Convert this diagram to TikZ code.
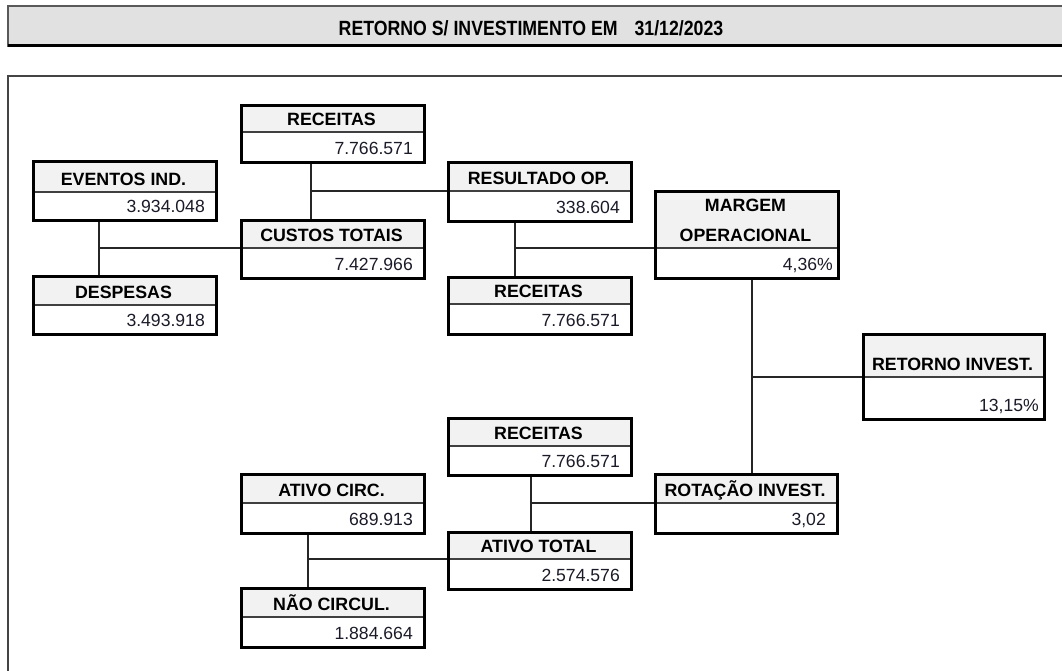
\documentclass[tikz,border=0pt]{standalone}
\usepackage{fontspec}
\setmainfont{Liberation Sans}
\newfontfamily\hdrfont{Liberation Sans}[FakeStretch=0.86]
\usetikzlibrary{backgrounds}
\definecolor{hdrbarfill}{HTML}{E1E1E1}
\definecolor{hdrrowfill}{HTML}{F2F2F2}
\definecolor{valtext}{HTML}{1A1A28}
\definecolor{framecol}{HTML}{444444}

% name, left, top, separator, bottom, right, label, value, right padding
\newcommand\finbox[9]{%
  \fill[hdrrowfill] (#2,#3) rectangle (#6,#4);
  \draw[sepline] (#2,#4) -- (#6,#4);
  \node[boxnode, minimum width={(#6-#2)*1pt}, minimum height={(#5-#3)*1pt}, anchor=north west] (#1) at (#2,#3) {};
  \node[lbl] (#1-l) at ({(#2+#6)/2},{#4-6}) {#7};
  \node[val] (#1-v) at ({#6-#9},{#5-6}) {#8};
}

\begin{document}
\begin{tikzpicture}[x=1pt, y=-1pt,
  boxnode/.style={draw=black, line width=3pt, inner sep=0pt, rectangle},
  sepline/.style={draw=black!75, line width=1.3pt},
  conn/.style={draw=black!85, line width=1.5pt},
  lbl/.style={font=\fontsize{17.8}{30}\selectfont\bfseries, inner sep=0pt, text depth=0pt, anchor=south, align=center},
  val/.style={font=\fontsize{17.6}{20}\selectfont, inner sep=0pt, text depth=0pt, anchor=south east, text=valtext},
  title/.style={font=\hdrfont\fontsize{20.6}{24}\selectfont\bfseries, inner sep=0pt, anchor=base},
  framestyle/.style={draw=framecol, line width=2pt}
]
\useasboundingbox (0,0) rectangle (1062,671);

% title bar
\fill[hdrbarfill] (8,6) rectangle (1062,47);
\draw[draw=black!65, line width=1.2pt] (1062,6) -- (8,6) -- (8,47);
\draw[line width=3pt] (8,46) -- (1062,46);
\node[title] (title) at (531,36) {RETORNO S/ INVESTIMENTO EM\hspace{17pt}31/12/2023};

% frame
\draw[framestyle] (8,671) -- (8,76) -- (1062,76);

% boxes
\finbox{R1}{240}{104}{132}{161}{423}{RECEITAS}{7.766.571}{10}
\finbox{EV}{32}{160}{192}{219}{215}{EVENTOS IND.}{3.934.048}{10}
\finbox{CT}{240}{219}{248}{277}{423}{CUSTOS TOTAIS}{7.427.966}{10}
\finbox{DS}{32}{275}{305}{333}{215}{DESPESAS}{3.493.918}{10}
\finbox{RO}{447}{161}{191}{220}{630}{RESULTADO OP.}{338.604}{10}
\finbox{R2}{447}{276}{304}{333}{630}{RECEITAS}{7.766.571}{10}
\finbox{MG}{654}{190}{248}{277}{837}{MARGEM\\OPERACIONAL}{4,36\%}{4}
\finbox{RI}{862}{333}{377}{418}{1043}{RETORNO INVEST.}{13,15\%}{4}
\finbox{R3}{447}{417}{446}{474}{630}{RECEITAS}{7.766.571}{10}
\finbox{AC}{240}{473}{503}{532}{423}{ATIVO CIRC.}{689.913}{10}
\finbox{AT}{447}{531}{559}{588}{630}{ATIVO TOTAL}{2.574.576}{10}
\finbox{NC}{240}{587}{617}{646}{423}{NÃO CIRCUL.}{1.884.664}{10}
\finbox{RT}{654}{473}{503}{532}{836}{ROTAÇÃO INVEST.}{3,02}{10}

% connectors
\begin{scope}[on background layer]
\coordinate (j1) at (99,248);
\draw[conn] (EV.south -| j1) -- (DS.north -| j1);
\draw[conn] (j1) -- (CT.west |- j1);
\coordinate (j2) at (311,191);
\draw[conn] (R1.south -| j2) -- (CT.north -| j2);
\draw[conn] (j2) -- (RO.west |- j2);
\coordinate (j3) at (515,248);
\draw[conn] (RO.south -| j3) -- (R2.north -| j3);
\draw[conn] (j3) -- (MG.west |- j3);
\coordinate (j4) at (752,377);
\draw[conn] (MG.south -| j4) -- (RT.north -| j4);
\draw[conn] (j4) -- (RI.west |- j4);
\coordinate (j5) at (308,559);
\draw[conn] (AC.south -| j5) -- (NC.north -| j5);
\draw[conn] (j5) -- (AT.west |- j5);
\coordinate (j6) at (531,503);
\draw[conn] (R3.south -| j6) -- (AT.north -| j6);
\draw[conn] (j6) -- (RT.west |- j6);
\end{scope}
\end{tikzpicture}
\end{document}
